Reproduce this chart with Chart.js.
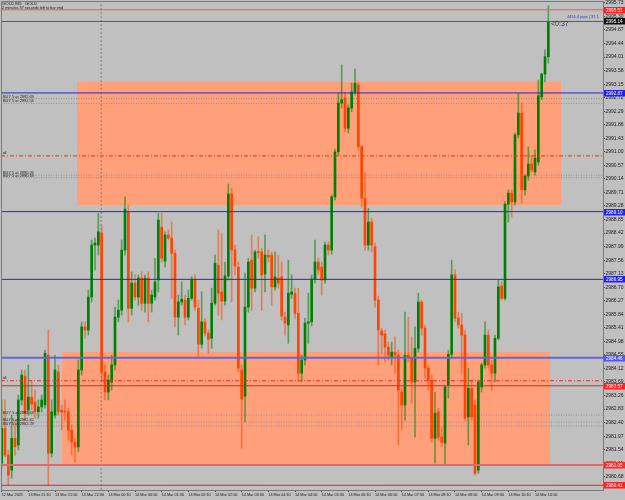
<!DOCTYPE html>
<html><head><meta charset="utf-8">
<script src="https://cdn.jsdelivr.net/npm/chart.js@4.4.1/dist/chart.umd.min.js"></script>
<style>html,body{margin:0;padding:0;background:#C0C0C0;}canvas{display:block;}</style>
</head><body>
<canvas id="c" width="625" height="500" style="width:625px;height:500px"></canvas>
<script>
// ---- DATA (GOLD, M5) ----
const opens=[2981.11,2982.22,2981.37,2980.89,2981.90,2981.69,2983.12,2983.88,2982.80,2983.21,
2983.05,2982.74,2982.90,2982.96,2984.54,2981.43,2982.64,2984.01,2982.80,2982.77,
2982.74,2982.16,2981.78,2981.63,2984.07,2985.44,2985.34,2986.39,2988.04,2988.04,
2988.42,2984.01,2983.37,2983.69,2984.23,2985.75,2985.97,2987.88,2989.09,2986.03,
2986.83,2986.39,2986.99,2986.19,2986.99,2986.19,2986.39,2986.93,2988.61,2987.53,
2988.36,2988.26,2987.78,2985.75,2986.23,2986.29,2985.75,2986.35,2986.93,2986.03,
2984.89,2985.60,2985.24,2985.08,2986.19,2987.40,2986.55,2986.26,2987.06,2989.66,
2987.88,2987.34,2984.07,2983.24,2986.07,2987.56,2986.67,2987.82,2987.82,2987.12,
2987.72,2987.72,2986.71,2986.99,2987.03,2985.75,2985.50,2986.48,2986.51,2985.87,
2983.97,2984.39,2985.56,2985.60,2986.96,2987.50,2987.34,2986.93,2988.04,2987.88,
2989.57,2991.00,2992.55,2992.71,2991.75,2992.39,2992.90,2993.12,2991.16,2989.53,
2988.04,2988.77,2987.98,2986.29,2985.31,2985.21,2984.80,2984.48,2984.64,2984.54,
2983.37,2982.96,2984.54,2984.45,2983.69,2984.76,2986.23,2985.40,2984.13,2983.75,
2981.90,2982.74,2981.94,2981.75,2983.59,2984.57,2987.09,2985.72,2985.50,2985.18,
2982.58,2983.49,2982.96,2980.89,2983.53,2984.23,2985.18,2984.23,2983.97,2985.08,
2986.74,2986.35,2989.34,2989.69,2989.41,2991.54,2992.23,2989.79,2990.23,2990.61,
2990.36,2990.68,2992.74,2993.47,2994.02];
const highs=[2983.12,2983.12,2981.53,2982.64,2982.48,2983.27,2984.07,2984.07,2984.23,2983.75,
2983.43,2983.12,2983.27,2984.70,2985.34,2983.12,2984.54,2984.23,2982.96,2983.12,
2982.86,2982.32,2981.90,2984.39,2985.60,2985.60,2986.61,2988.20,2988.26,2989.05,
2988.67,2984.23,2983.91,2984.54,2986.07,2986.29,2988.20,2989.57,2989.31,2987.19,
2987.09,2987.09,2987.19,2987.09,2987.19,2986.61,2987.62,2989.05,2989.05,2988.46,
2988.52,2988.77,2987.88,2986.45,2986.87,2986.45,2986.61,2987.03,2987.09,2986.29,
2986.55,2985.71,2985.34,2986.67,2987.72,2988.52,2988.42,2987.50,2989.98,2989.85,
2988.04,2987.50,2984.23,2987.15,2987.62,2988.36,2987.88,2988.30,2987.94,2988.36,
2987.88,2987.82,2987.82,2987.72,2987.50,2985.91,2987.56,2987.09,2986.67,2986.67,
2984.54,2985.71,2986.51,2987.09,2988.20,2987.62,2987.50,2988.14,2988.14,2989.63,
2991.09,2992.87,2993.76,2992.90,2992.49,2993.18,2993.63,2993.22,2991.22,2990.36,
2989.21,2988.89,2988.10,2986.42,2985.40,2985.34,2984.96,2984.96,2985.12,2984.70,
2983.49,2985.91,2985.75,2985.12,2985.44,2986.51,2986.29,2985.50,2984.23,2983.91,
2983.37,2982.86,2982.26,2983.59,2984.70,2987.56,2987.25,2985.91,2985.87,2985.34,
2984.13,2983.75,2983.12,2983.75,2984.29,2985.60,2985.34,2984.39,2985.18,2986.93,
2986.87,2989.41,2989.79,2989.79,2991.60,2992.87,2992.55,2990.29,2991.16,2990.90,
2991.06,2993.28,2993.50,2994.24,2995.64];
const lows=[2980.95,2981.31,2980.41,2980.63,2981.37,2981.53,2982.96,2982.48,2982.64,2982.80,
2982.54,2982.54,2982.74,2982.86,2980.41,2981.31,2982.54,2982.64,2982.16,2982.48,
2981.84,2981.37,2981.15,2981.47,2983.91,2985.08,2985.18,2986.23,2987.25,2987.72,
2983.75,2983.12,2983.12,2983.43,2984.07,2985.60,2985.81,2987.72,2985.60,2985.81,
2986.29,2986.13,2985.97,2985.91,2985.60,2985.91,2986.29,2986.55,2987.50,2987.34,
2988.20,2986.35,2985.44,2985.18,2986.13,2985.50,2985.66,2986.29,2985.97,2984.48,
2984.76,2985.15,2984.60,2984.76,2986.13,2985.81,2985.66,2986.13,2986.93,2986.23,
2987.09,2984.01,2981.59,2982.42,2985.91,2985.97,2986.55,2987.62,2985.97,2986.55,
2987.50,2986.13,2986.61,2986.67,2985.66,2985.18,2984.92,2986.35,2985.71,2983.69,
2983.69,2984.23,2984.92,2985.47,2986.83,2987.09,2986.45,2986.83,2987.72,2987.75,
2989.47,2990.87,2992.39,2991.63,2991.60,2992.27,2992.81,2991.06,2989.25,2987.88,
2987.88,2987.82,2986.07,2984.23,2984.60,2984.33,2984.39,2984.23,2983.97,2981.69,
2982.16,2982.48,2984.33,2983.02,2981.94,2984.64,2985.18,2983.81,2983.43,2981.78,
2981.11,2981.84,2981.63,2981.05,2983.18,2984.45,2985.60,2985.40,2983.97,2982.48,
2981.69,2982.48,2980.73,2980.79,2983.37,2984.13,2984.13,2983.43,2983.69,2985.02,
2986.29,2986.29,2988.77,2988.93,2989.31,2991.44,2989.37,2989.63,2990.10,2990.36,
2990.26,2990.58,2992.65,2993.22,2993.82];
const closes=[2982.22,2981.37,2980.73,2981.90,2981.63,2983.12,2983.91,2982.70,2983.21,2982.99,
2982.74,2982.90,2983.12,2984.60,2981.43,2982.74,2984.07,2982.74,2982.74,2982.74,
2982.16,2981.78,2981.63,2984.07,2985.44,2985.34,2986.39,2988.04,2988.10,2988.46,
2984.01,2983.37,2983.75,2984.23,2985.75,2985.97,2987.88,2989.18,2986.03,2986.83,
2986.39,2986.99,2986.19,2986.99,2986.19,2986.45,2986.87,2988.83,2987.62,2988.36,
2988.26,2987.78,2985.75,2986.23,2986.32,2985.75,2986.35,2986.93,2986.07,2984.89,
2985.60,2985.24,2985.05,2986.19,2987.46,2986.51,2986.26,2987.06,2989.66,2987.88,
2987.37,2984.13,2983.15,2986.07,2987.50,2986.67,2987.82,2987.80,2987.09,2987.72,
2987.66,2986.71,2987.03,2986.83,2985.78,2985.56,2986.51,2986.55,2985.87,2983.97,
2984.39,2985.56,2985.60,2986.96,2987.50,2987.25,2986.93,2988.04,2987.88,2989.57,
2991.00,2992.55,2992.65,2991.75,2992.39,2992.90,2993.18,2991.16,2989.53,2988.04,
2988.77,2988.04,2986.29,2985.34,2985.18,2984.80,2984.54,2984.64,2984.54,2983.43,
2982.96,2984.54,2984.45,2983.69,2984.76,2986.23,2985.40,2984.13,2983.75,2981.90,
2982.70,2981.94,2981.78,2983.53,2984.57,2987.09,2985.72,2985.50,2985.18,2982.54,
2983.49,2982.58,2980.79,2983.69,2984.23,2985.18,2984.23,2983.97,2985.08,2986.71,
2986.35,2989.34,2989.69,2989.41,2991.54,2992.23,2989.79,2990.23,2990.61,2990.42,
2990.80,2992.78,2993.47,2994.02,2995.13];
const timeLabels=['12 Mar 2025','13 Mar 21:10','13 Mar 21:50','13 Mar 22:30','14 Mar 00:10','14 Mar 00:50','14 Mar 01:30',
'14 Mar 02:10','14 Mar 02:50','14 Mar 03:30','14 Mar 04:10','14 Mar 04:50','14 Mar 05:30','14 Mar 06:10','14 Mar 06:50',
'14 Mar 07:30','14 Mar 08:10','14 Mar 08:50','14 Mar 09:30','14 Mar 10:10','14 Mar 10:50'];
const timeLabelBars=[0,8,16,24,32,40,48,56,64,72,80,88,96,104,112,120,128,136,144,152,160];
const priceTicks=[2995.73,2995.30,2994.87,2994.44,2994.01,2993.58,2993.15,2992.72,2992.29,2991.86,2991.43,2991.00,
2990.57,2990.14,2989.71,2989.28,2988.85,2988.42,2987.99,2987.56,2987.13,2986.70,2986.27,2985.84,2985.41,2984.98,
2984.55,2984.12,2983.69,2983.26,2982.83,2982.40,2981.97,2981.54,2981.11,2980.68];
const levelPrices=[2995.51,2995.14,2992.87,2989.10,2986.95,2984.46,2983.57,2981.05,2980.41];
const orderPrices=[2992.69,2992.54,2990.26,2990.18,2982.64,2982.42,2982.29];
const stopPrices=[2990.87,2983.73];
const zoneBars=[[22.6,167.8],[18.1,164.5]];
const zonePrices=[[2993.22,2989.31],[2984.64,2981.05]];
const separatorBar=[29.85];
const symbolTitle='GOLD,M5:  GOLD';
const timerText='2 minutes 37 seconds left to bar end';
const countdownText='<0:37';
const pipsText='4451.4 pips | 37.1';

// ---- STYLES ----
const X_MIN=-0.2, X_MAX=180.4, Y_MIN=2980.26, Y_MAX=2995.79;
const levelStyle=[
 {c:'#E25C5C',w:1,box:'#FF2020'},
 {c:'#5A5A5A',w:1,box:'#111111'},
 {c:'#2626C8',w:1,box:'#2222EE'},
 {c:'#2626C8',w:1,box:'#2222EE'},
 {c:'#2626C8',w:1,box:'#2222EE'},
 {c:'#6464DC',w:2,box:'#5555EE'},
 {c:'#E02424',w:1,box:'#FF2020'},
 {c:'#E06A6A',w:2,box:'#FF2A2A'},
 {c:'#E02424',w:1,box:'#FF2020'}];
const BULL='#008000', BEAR='#FF4500';
const idx=opens.map((_,i)=>i);
const isBull=idx.map(i=>closes[i]>=opens[i]);

const hline=(p,color,width,dash,order)=>({type:'line',data:[{x:X_MIN,y:p},{x:X_MAX,y:p}],borderColor:color,borderWidth:width,
 borderDash:dash||[],pointRadius:0,fill:false,order:order,tension:0});

const datasets=[];
zonePrices.forEach((z,k)=>{
 datasets.push({type:'line',data:[{x:zoneBars[k][0],y:z[0]},{x:zoneBars[k][1],y:z[0]}],borderWidth:0,pointRadius:0,
  fill:{value:z[1]},backgroundColor:'#FFA07A',order:20});
});
datasets.push({type:'line',data:[{x:separatorBar[0],y:Y_MIN},{x:separatorBar[0],y:Y_MAX}],borderColor:'#7C7C7C',borderWidth:1,
 borderDash:[2,2],pointRadius:0,fill:false,order:15});
orderPrices.forEach(p=>datasets.push(hline(p,'#8E8E8E',1,[1,1.5],14)));
datasets.push({type:'bar',data:idx.map(i=>({x:i,y:[lows[i],highs[i]]})),barThickness:1,grouped:false,
 backgroundColor:idx.map(i=>isBull[i]?'rgba(0,128,0,0.55)':'rgba(255,69,0,0.55)'),order:6});
datasets.push({type:'bar',data:idx.map(i=>({x:i,y:[opens[i],closes[i]]})),barThickness:2,grouped:false,minBarLength:1,
 backgroundColor:idx.map(i=>isBull[i]?BULL:BEAR),order:5});
stopPrices.forEach(p=>datasets.push(hline(p,'#F02A2A',1,[4,2,1,2],2)));
levelPrices.forEach((p,k)=>datasets.push(hline(p,levelStyle[k].c,levelStyle[k].w,[],1)));

const bgPlugin={id:'bg',beforeDraw(ch){const c=ch.ctx;c.save();c.fillStyle='#C0C0C0';c.fillRect(0,0,ch.width,ch.height);c.restore();}};
const overlay={id:'overlay',afterDraw(ch){
 const c=ch.ctx, ys=ch.scales.y, a=ch.chartArea;
 c.save();
 c.strokeStyle='#7A7A7A'; c.lineWidth=1;
 c.beginPath(); c.moveTo(a.left+0.5,a.top); c.lineTo(a.left+0.5,a.bottom);
 c.moveTo(a.left,a.top+0.5); c.lineTo(a.right,a.top+0.5); c.stroke();
 c.fillStyle='#111'; c.textBaseline='middle'; c.textAlign='left';
 c.font='4.3px "Liberation Sans"'; c.fillText(symbolTitle,2,4.3);
 c.font='3.8px "Liberation Sans"'; c.fillText(timerText,2,7.8);
 c.fillStyle='#202020'; c.font='3.9px "Liberation Sans"';
 orderPrices.forEach(p=>{const py=ys.getPixelForValue(p); c.fillText('BUY 5 at '+p.toFixed(2),3,py-2.1);});
 c.font='bold 4px "Liberation Sans"';
 stopPrices.forEach(p=>{const py=ys.getPixelForValue(p); c.fillText('sl',3,py-3);});
 c.fillStyle='#333'; c.font='7px "Liberation Sans"'; c.fillText(countdownText,551,24);
 c.fillStyle='#2B2BF0'; c.font='4px "Liberation Sans"'; c.fillText(pipsText,567,17.3);
 levelPrices.forEach((p,k)=>{const py=Math.round(ys.getPixelForValue(p));
  c.fillStyle=levelStyle[k].box; c.fillRect(a.right+1,py-3,21,6.5);
  c.fillStyle='#FFFFFF'; c.font='4.6px "Liberation Sans"'; c.fillText(p.toFixed(2),a.right+3,py+0.3);});
 c.restore();
}};

new Chart(document.getElementById('c').getContext('2d'),{
 type:'bar',
 data:{datasets:datasets},
 options:{
  responsive:false,animation:false,devicePixelRatio:1,
  layout:{padding:{left:1,top:1,right:0,bottom:0}},
  plugins:{legend:{display:false},tooltip:{enabled:false},title:{display:false}},
  scales:{
   x:{type:'linear',min:X_MIN,max:X_MAX,offset:false,
    grid:{display:true,offset:false,drawOnChartArea:false,drawTicks:true,tickLength:2,color:'#505050'},
    border:{display:true,color:'#7A7A7A'},
    afterBuildTicks:s=>{s.ticks=timeLabelBars.map(v=>({value:v}));},
    ticks:{autoSkip:false,maxRotation:0,minRotation:0,align:'start',padding:0.5,color:'#1A1A1A',
     font:{size:3.8,family:'Liberation Sans'},callback:(v,i)=>timeLabels[i]},
    afterFit:s=>{s.height=10;s.paddingLeft=0;s.paddingRight=0;}},
   y:{type:'linear',position:'right',min:Y_MIN,max:Y_MAX,beginAtZero:false,
    grid:{display:true,drawOnChartArea:false,drawTicks:true,tickLength:2,color:'#505050'},
    border:{display:true,color:'#7A7A7A'},
    afterBuildTicks:s=>{s.ticks=priceTicks.map(v=>({value:v}));},
    ticks:{padding:0.5,color:'#1A1A1A',font:{size:5,family:'Liberation Sans'},callback:v=>Number(v).toFixed(2)},
    afterFit:s=>{s.width=22;s.paddingTop=0;s.paddingBottom=0;}}
  }
 },
 plugins:[bgPlugin,overlay]
});
</script>
</body></html>
